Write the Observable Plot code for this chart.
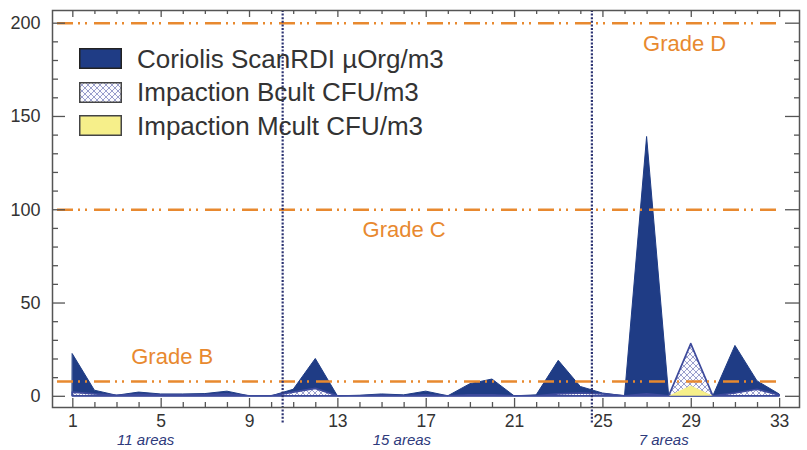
<!DOCTYPE html>
<html>
<head>
<meta charset="utf-8">
<script src="https://cdn.jsdelivr.net/npm/d3@7"></script>
<script src="https://cdn.jsdelivr.net/npm/@observablehq/plot@0.6"></script>
<style>
  body { margin: 0; background: #fff; }
  #wrap { position: relative; width: 807px; height: 450px; font-family: "Liberation Sans", Arial, sans-serif; }
  #legend { position: absolute; left: 79px; top: 42px; }
  .row { display: flex; align-items: center; height: 33.5px; }
  .row svg { margin-right: 15px; }
  .row span { font-size: 26px; color: #333; line-height: 1; }
</style>
</head>
<body>
<div id="wrap"></div>
<script>
// ---- data ----
const areaNumbers = d3.range(1, 34);
const coriolis = [22.5, 3, 0.3, 2, 1, 1, 1.2, 2.5, 0, 0, 3.5, 20, 0, 0.3, 1, 0.5, 2.5, 0, 6.5, 9, 0, 0.5, 19, 5, 1.5, 0, 139, 0, 0, 0, 27, 8, 1];
const bcult    = [2, 1, 0.3, 0.8, 0.5, 0.5, 0.5, 1, 0, 0, 2, 4, 0, 0, 0.3, 0, 0.5, 0, 0.5, 0.5, 0, 0, 1, 1.5, 1, 0, 1, 0, 28, 0, 1.5, 3.5, 0.5];
const mcult    = [0, 0, 0, 0, 0, 0, 0, 0, 0, 0, 0, 0, 0, 0, 0, 0, 0, 0, 0, 0, 0, 0, 0, 0, 0, 0, 0, 0, 5.5, 0, 0, 0, 0];
const seriesNames = ["Coriolis ScanRDI µOrg/m3", "Impaction Bcult CFU/m3", "Impaction Mcult CFU/m3"];
const gradeLimits = [8, 100, 200];
const gradeNames = ["Grade B", "Grade C", "Grade D"];
const gradeLabelX = [5.5, 16, 28.7];
const gradeLabelY = [21, 89, 189];
const dividers = [10.5, 24.5];
const groupLabels = ["11 areas", "15 areas", "7 areas"];
const groupLabelX = [4.3, 15.9, 27.75];
const xTickLabels = [1, 5, 9, 13, 17, 21, 25, 29, 33];
const yTickLabels = [0, 50, 100, 150, 200];

// ---- tables ----
const rows = areaNumbers.map((a, i) => ({area: a, coriolis: coriolis[i], bcult: bcult[i], mcult: mcult[i]}));
const grades = gradeNames.map((g, i) => ({label: g, x: gradeLabelX[i], y: gradeLabelY[i]}));
const groups = groupLabels.map((g, i) => ({label: g, x: groupLabelX[i]}));
const minorX = areaNumbers.filter(d => !xTickLabels.includes(d));
const minorY = d3.range(0, 201, 10).filter(d => !yTickLabels.includes(d));

const BLUE = "#1f3c85", ORANGE = "#e8892f", NAVY = "#2b3272", YELLOW = "#f6ef8a", AX = "#555";
const W = 807, H = 450, mL = 52, mR = 8, mT = 10, mB = 43;
const iH = H - mT - mB, iW = W - mL - mR;

const svg = Plot.plot({
  width: W, height: H,
  marginLeft: mL, marginRight: mR, marginTop: mT, marginBottom: mB,
  x: {domain: [0.08, 33.9], label: null},
  y: {domain: [-6, 206.8], label: null},
  style: {fontFamily: "'Liberation Sans', Arial, sans-serif", background: "white", overflow: "visible"},
  marks: [
    Plot.areaY(rows, {x: "area", y: "coriolis", fill: BLUE, stroke: BLUE, strokeWidth: 1}),
    Plot.areaY(rows, {x: "area", y: "bcult", fill: "url(#hatch)", stroke: "#3d4a9c", strokeWidth: 1.7}),
    Plot.areaY(rows, {x: "area", y: "mcult", fill: YELLOW}),
    Plot.ruleY(gradeLimits, {stroke: ORANGE, strokeWidth: 2.5, strokeDasharray: "16,5,2,5,2,7", insetLeft: 5, insetRight: 18}),
    Plot.ruleX(dividers, {stroke: NAVY, strokeWidth: 2.2, strokeDasharray: "2,1.6", insetBottom: -17}),
    Plot.frame({stroke: AX, strokeWidth: 1.5}),
    // inner ticks
    Plot.tickX(xTickLabels, {x: d => d, stroke: AX, strokeWidth: 1.3, insetTop: iH - 9}),
    Plot.tickX(minorX, {x: d => d, stroke: AX, strokeWidth: 1.3, insetTop: iH - 5}),
    Plot.tickX(xTickLabels, {x: d => d, stroke: AX, strokeWidth: 1.3, insetBottom: iH - 7}),
    Plot.tickX(minorX, {x: d => d, stroke: AX, strokeWidth: 1.3, insetBottom: iH - 4}),
    Plot.tickY(yTickLabels, {y: d => d, stroke: AX, strokeWidth: 1.3, insetRight: iW - 13}),
    Plot.tickY(minorY, {y: d => d, stroke: AX, strokeWidth: 1.3, insetRight: iW - 6}),
    Plot.tickY(yTickLabels, {y: d => d, stroke: AX, strokeWidth: 1.3, insetLeft: iW - 14}),
    Plot.tickY(minorY, {y: d => d, stroke: AX, strokeWidth: 1.3, insetLeft: iW - 5}),
    Plot.axisX(xTickLabels, {tickSize: 0, tickPadding: 7, fontSize: 17.5, fill: "#333", label: null}),
    Plot.axisY(yTickLabels, {tickSize: 0, tickPadding: 12, fontSize: 18, fill: "#333", label: null}),
    Plot.text(grades, {x: "x", y: "y", text: "label", fill: ORANGE, fontSize: 22}),
    Plot.text(groups, {x: "x", text: "label", frameAnchor: "bottom", dy: 37.5, fill: "#2e3a7c", fontSize: 15, fontStyle: "italic"})
  ]
});

// hatch pattern
const defs = d3.select(svg).insert("defs", ":first-child");
const pat = defs.append("pattern").attr("id", "hatch").attr("width", 6).attr("height", 6).attr("patternUnits", "userSpaceOnUse");
pat.append("rect").attr("width", 6).attr("height", 6).attr("fill", "#fbfbff");
pat.append("path").attr("d", "M0,0L6,6M6,0L0,6").attr("stroke", "#8d93c6").attr("stroke-width", 0.9);

const wrap = document.getElementById("wrap");
wrap.appendChild(svg);

// legend
const swatches = [
  `<rect x="0.75" y="0.75" width="41.5" height="19.5" fill="${BLUE}" stroke="#222" stroke-width="1.5"/>`,
  `<defs><pattern id="hatchL" width="6" height="6" patternUnits="userSpaceOnUse"><rect width="6" height="6" fill="#fbfbff"/><path d="M0,0L6,6M6,0L0,6" stroke="#8d93c6" stroke-width="0.9"/></pattern></defs><rect x="0.75" y="0.75" width="41.5" height="19.5" fill="url(#hatchL)" stroke="#444" stroke-width="1.5"/>`,
  `<rect x="0.75" y="0.75" width="41.5" height="19.5" fill="${YELLOW}" stroke="#444" stroke-width="1.5"/>`
];
const legend = document.createElement("div");
legend.id = "legend";
legend.innerHTML = seriesNames.map((n, i) =>
  `<div class="row"><svg width="43" height="21">${swatches[i]}</svg><span>${n}</span></div>`).join("");
wrap.appendChild(legend);
</script>
</body>
</html>
